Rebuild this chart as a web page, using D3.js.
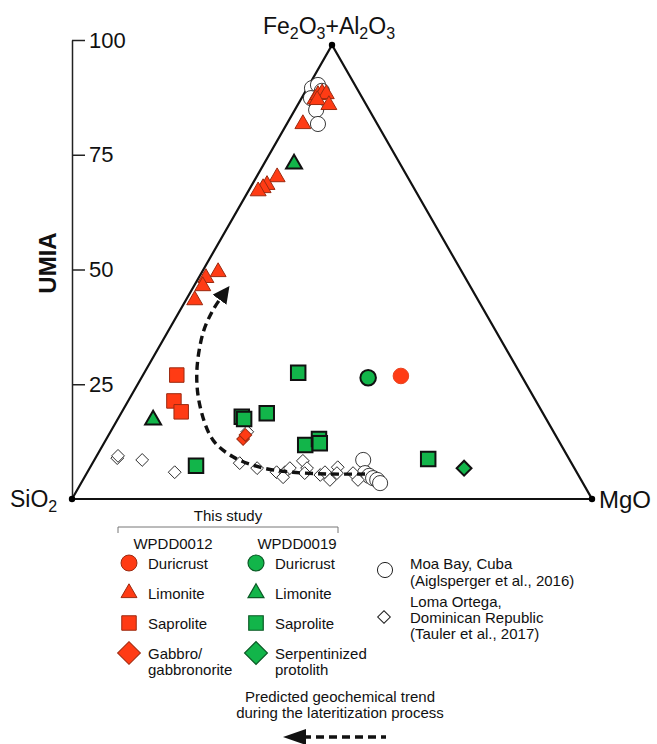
<!DOCTYPE html>
<html>
<head>
<meta charset="utf-8">
<script src="https://cdn.jsdelivr.net/npm/d3@7"></script>
<style>
  html, body { margin: 0; padding: 0; background: #fff; }
  svg { display: block; font-family: "Liberation Sans", Arial, Helvetica, sans-serif; }
</style>
</head>
<body>
<svg id="chart" width="657" height="744"></svg>
<script>
// Compositions as [Fe2O3+Al2O3 %, MgO %]; SiO2 makes up the remainder.
const wpdd0012Duricrust = [[27.1, 49.7]];
const wpdd0012Limonite = [
  [88.1, 2.7], [89.0, 2.8], [89.4, 3.4], [89.2, 4.3], [87.9, 3.2], [86.8, 6.0],
  [82.6, 3.1], [70.9, 4.0], [69.2, 2.9], [68.5, 2.5], [67.8, 1.9],
  [50.0, 3.1], [48.7, 1.4], [46.9, 1.7], [43.8, 1.7]
];
const wpdd0012Saprolite = [[27.3, 6.5], [21.6, 8.8], [19.2, 11.4]];
const wpdd0012Gabbro = [[13.2, 26.3], [14.1, 26.3]];

const wpdd0019Duricrust = [[26.7, 43.6]];
const wpdd0019Limonite = [[73.8, 5.8], [17.4, 6.9]];
const wpdd0019Saprolite = [
  [27.8, 29.6], [18.1, 23.6], [17.6, 24.3], [18.9, 28.0], [11.9, 38.9],
  [13.2, 40.9], [12.3, 41.5], [7.3, 20.2], [8.8, 64.1]
];
const wpdd0019Protolith = [[6.8, 72.0]];

const moaBay = [
  [90.5, 0.9], [91.2, 1.7], [89.9, 3.1], [88.3, 1.8], [85.7, 4.1], [82.6, 6.0],
  [8.6, 51.7], [5.7, 53.5], [5.1, 54.6], [4.6, 55.6], [4.2, 56.6], [3.5, 57.5]
];
const lomaOrtega = [
  [9.0, 4.2], [9.5, 4.1], [8.6, 9.2], [5.9, 16.8], [7.9, 28.3], [14.8, 26.3],
  [6.8, 32.2], [5.9, 36.4], [5.9, 38.0], [4.8, 38.2], [6.8, 38.5], [8.4, 40.2],
  [6.8, 41.8], [5.7, 41.9], [5.3, 45.1], [5.9, 45.7], [4.2, 47.5], [7.0, 47.6],
  [5.7, 48.1], [5.7, 51.2], [4.2, 52.9]
];

// Predicted lateritization trend, protolith -> limonite
const trendPath = [
  [5.5, 53.6], [5.5, 46.9], [5.9, 39.5], [7.0, 32.6], [9.3, 26.3], [13.0, 20.6],
  [20.3, 14.5], [27.8, 10.1], [36.6, 6.9], [41.6, 6.3], [44.5, 6.5]
];

const umiaTicks = [25, 50, 75, 100];
const apexLabels = { top: ["Fe", "2", "O", "3", "+Al", "2", "O", "3"], left: ["SiO", "2"], right: ["MgO"] };

const RED = "#ff3b14", RED_EDGE = "#9c2a10";
const GREEN = "#12b54a";

const svg = d3.select("#chart");

// Ternary frame
const xS = d3.scaleLinear().domain([0, 100]).range([72, 592]);
const yT = d3.scaleLinear().domain([0, 100]).range([499, 45]);
const yAxisScale = d3.scaleLinear().domain([0, 100]).range([499, 40]);
const project = ([fe, mg]) => [xS(mg + fe / 2), yT(fe)];

const vSi = project([0, 0]), vMg = project([0, 100]), vFe = project([100, 0]);

// UMIA axis
const axisG = svg.append("g").attr("transform", `translate(${vSi[0]},0)`)
  .call(d3.axisRight(yAxisScale).tickValues(umiaTicks).tickSize(13).tickSizeOuter(0).tickPadding(4));
axisG.select(".domain").attr("stroke", "#222").attr("stroke-width", 1.5);
axisG.selectAll(".tick line").attr("stroke", "#222").attr("stroke-width", 1.5);
axisG.selectAll(".tick text").attr("fill", "#111").style("font-size", "22px")
  .style("font-family", "'Liberation Sans', Arial, sans-serif");

svg.append("text").attr("transform", "translate(56,263) rotate(-90)")
  .attr("text-anchor", "middle").style("font-size", "24px").style("font-weight", "bold")
  .attr("fill", "#111").text("UMIA");

svg.append("path")
  .attr("d", d3.line()([vSi, vFe, vMg, vSi]) + "Z")
  .attr("fill", "none").attr("stroke", "#111").attr("stroke-width", 2.2).attr("stroke-linejoin", "miter");

[vSi, vFe, vMg].forEach(v => svg.append("circle").attr("cx", v[0]).attr("cy", v[1]).attr("r", 3.2).attr("fill", "#000"));

function subLabel(x, y, parts, anchor, size, subSize) {
  const t = svg.append("text").attr("x", x).attr("y", y).attr("text-anchor", anchor)
    .style("font-size", size + "px").attr("fill", "#111");
  parts.forEach((p, i) => {
    const isSub = /^[0-9]$/.test(p);
    const ts = t.append("tspan").text(p);
    if (isSub) ts.style("font-size", subSize + "px").attr("dy", 5);
    else if (i > 0 && /^[0-9]$/.test(parts[i - 1])) ts.attr("dy", -5);
  });
  return t;
}
subLabel(vFe[0] - 3, 34, apexLabels.top, "middle", 23, 16);
subLabel(10, 507, apexLabels.left, "start", 23, 16);
subLabel(599, 508, apexLabels.right, "start", 24, 16);

// Marker drawing
const sym = (type, size) => d3.symbol().type(type).size(size)();
function drawSet(data, opt) {
  svg.append("g").selectAll("path").data(data).join("path")
    .attr("transform", d => {
      const [x, y] = project(d);
      return `translate(${x},${y})` + (opt.rotate ? " rotate(45)" : "");
    })
    .attr("d", sym(opt.type, opt.size))
    .attr("fill", opt.fill).attr("stroke", opt.stroke).attr("stroke-width", opt.sw);
}

drawSet(moaBay, { type: d3.symbolCircle, size: 180, fill: "#fff", stroke: "#222", sw: 0.9 });
drawSet(lomaOrtega, { type: d3.symbolSquare, size: 82, rotate: true, fill: "#fff", stroke: "#222", sw: 0.9 });

// Trend arrow
const defs = svg.append("defs");
defs.append("marker").attr("id", "trendHead").attr("viewBox", "0 0 10 10")
  .attr("refX", 2).attr("refY", 5).attr("markerWidth", 5).attr("markerHeight", 5)
  .attr("markerUnits", "strokeWidth").attr("orient", "auto")
  .append("path").attr("d", "M0,0 L10,5 L0,10 Z").attr("fill", "#111");

svg.append("path")
  .attr("d", d3.line().curve(d3.curveCatmullRom.alpha(0.5))(trendPath.map(project)))
  .attr("fill", "none").attr("stroke", "#111").attr("stroke-width", 3.4)
  .attr("stroke-dasharray", "8,5").attr("marker-end", "url(#trendHead)");

drawSet(wpdd0019Saprolite, { type: d3.symbolSquare, size: 210, fill: GREEN, stroke: "#111", sw: 2 });
drawSet(wpdd0012Saprolite, { type: d3.symbolSquare, size: 210, fill: RED, stroke: RED_EDGE, sw: 1 });
drawSet(wpdd0012Gabbro, { type: d3.symbolSquare, size: 80, rotate: true, fill: RED, stroke: RED_EDGE, sw: 1 });
drawSet(wpdd0019Protolith, { type: d3.symbolSquare, size: 110, rotate: true, fill: GREEN, stroke: "#111", sw: 2 });
drawSet(wpdd0012Limonite, { type: d3.symbolTriangle, size: 110, fill: RED, stroke: RED_EDGE, sw: 1 });
drawSet(wpdd0019Limonite, { type: d3.symbolTriangle, size: 110, fill: GREEN, stroke: "#111", sw: 2 });
drawSet(wpdd0019Duricrust, { type: d3.symbolCircle, size: 190, fill: GREEN, stroke: "#111", sw: 2 });
drawSet(wpdd0012Duricrust, { type: d3.symbolCircle, size: 190, fill: RED, stroke: "#e8421f", sw: 1 });

// Legend
const lg = svg.append("g").style("font-size", "15px").attr("fill", "#111");
const txt = (x, y, s, anchor) => lg.append("text").attr("x", x).attr("y", y)
  .attr("text-anchor", anchor || "start").attr("fill", "#111").text(s);

txt(228, 521, "This study", "middle");
lg.append("path").attr("d", "M118,533 V527 H338 V533").attr("fill", "none").attr("stroke", "#777").attr("stroke-width", 1);
txt(173, 549, "WPDD0012", "middle");
txt(297, 549, "WPDD0019", "middle");

const legendRows = [
  { label: ["Duricrust"], y: 563, type: d3.symbolCircle, size: 200 },
  { label: ["Limonite"], y: 593, type: d3.symbolTriangle, size: 110 },
  { label: ["Saprolite"], y: 623, type: d3.symbolSquare, size: 210 },
  { label: null, y: 653, type: d3.symbolSquare, size: 260, rotate: true }
];
const leftLast = ["Gabbro/", "gabbronorite"], rightLast = ["Serpentinized", "protolith"];

legendRows.forEach((r, i) => {
  [[129, RED, RED_EDGE, 1, leftLast, 148], [256, GREEN, "#0b5a26", 1.2, rightLast, 275]].forEach(([x, fill, stroke, sw, last, tx]) => {
    lg.append("path").attr("transform", `translate(${x},${r.y})` + (r.rotate ? " rotate(45)" : ""))
      .attr("d", sym(r.type, r.size)).attr("fill", fill).attr("stroke", stroke).attr("stroke-width", sw);
    if (r.label) txt(tx, r.y + 6, r.label[0]);
    else { txt(tx, r.y + 6, last[0]); txt(tx, r.y + 22, last[1]); }
  });
});

lg.append("path").attr("transform", "translate(385,570)").attr("d", sym(d3.symbolCircle, 180))
  .attr("fill", "#fff").attr("stroke", "#222").attr("stroke-width", 1);
txt(410, 569, "Moa Bay, Cuba");
txt(410, 586, "(Aiglsperger et al., 2016)");
lg.append("path").attr("transform", "translate(384,617) rotate(45)").attr("d", sym(d3.symbolSquare, 80))
  .attr("fill", "#fff").attr("stroke", "#222").attr("stroke-width", 1);
txt(410, 607, "Loma Ortega,");
txt(410, 623, "Dominican Republic");
txt(410, 639, "(Tauler et al., 2017)");

txt(340, 702, "Predicted geochemical trend", "middle");
txt(340, 718, "during the lateritization process", "middle");
lg.append("line").attr("x1", 303).attr("x2", 386).attr("y1", 737).attr("y2", 737)
  .attr("stroke", "#111").attr("stroke-width", 3.6).attr("stroke-dasharray", "8,5");
lg.append("path").attr("d", "M283,737 L306,729 L306,745 Z").attr("fill", "#111");
</script>
</body>
</html>
